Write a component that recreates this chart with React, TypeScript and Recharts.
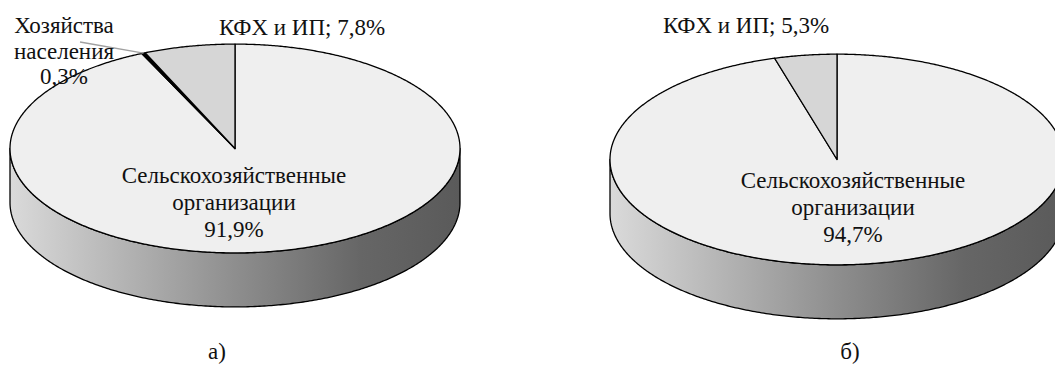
import React from 'react';
import { PieChart, Pie, Cell } from 'recharts';

// Доли категорий хозяйств, %
const categoriesA = ['Сельскохозяйственные организации', 'Хозяйства населения', 'КФХ и ИП'];
const sharesA = [91.9, 0.3, 7.8];
const categoriesB = ['Сельскохозяйственные организации', 'КФХ и ИП'];
const sharesB = [94.7, 5.3];
const captions = ['а)', 'б)'];

const dataA = categoriesA.map((name, i) => ({ name, value: sharesA[i] }));
const dataB = categoriesB.map((name, i) => ({ name, value: sharesB[i] }));

const fillsA = ['#efefef', '#000000', '#d6d6d6'];
const fillsB = ['#efefef', '#d6d6d6'];

// псевдо-3D: наклон диска, перспектива и толщина стенки
const TILT = 0.464;
const PERSP = -0.18;
const DEPTH = 54;
const FONT = 'Liberation Serif, Times New Roman, serif';
const FONT_SIZE = 23;

type Spot = { dx: number; dy: number; lh: number; inline?: boolean; leader?: [number, number] };

const spotsA: Spot[] = [
  { dx: -1, dy: 34.5, lh: 27 },
  { dx: -171, dy: -115.5, lh: 25.5, leader: [-155, -106.5] },
  { dx: 67, dy: -113.5, lh: 0, inline: true },
];
const spotsB: Spot[] = [
  { dx: 16, dy: 28.5, lh: 27 },
  { dx: -91, dy: -126.5, lh: 0, inline: true },
];

const project = (cx: number, cy: number, r: number, deg: number): [number, number] => {
  const t = (deg * Math.PI) / 180;
  const x = Math.cos(t);
  const y = -Math.sin(t);
  const d = 1 + PERSP * y;
  return [cx + (r * x * Math.sqrt(1 - PERSP * PERSP)) / d, cy + (r * TILT * (y + PERSP)) / d];
};

const arc = (cx: number, cy: number, r: number, a0: number, a1: number, shift = 0) => {
  const n = Math.max(2, Math.ceil(Math.abs(a1 - a0) * 2));
  const pts: string[] = [];
  for (let i = 0; i <= n; i++) {
    const [x, y] = project(cx, cy, r, a0 + ((a1 - a0) * i) / n);
    pts.push(`${x.toFixed(2)},${(y + shift).toFixed(2)}`);
  }
  return pts;
};

// видимая (передняя) часть боковой стенки
const FRONT_LO = 180 + (Math.asin(-PERSP) * 180) / Math.PI;
const FRONT_HI = 360 - (Math.asin(-PERSP) * 180) / Math.PI;

const makeSide = (gradId: string) => (props: any) => {
  const { cx, cy, outerRadius: r, startAngle, endAngle } = props;
  const lo = Math.min(startAngle, endAngle);
  const hi = Math.max(startAngle, endAngle);
  const paths: string[] = [];
  for (let k = -2; k <= 2; k++) {
    const a = Math.max(lo, FRONT_LO + 360 * k);
    const b = Math.min(hi, FRONT_HI + 360 * k);
    if (b > a) {
      const top = arc(cx, cy, r, a, b);
      const bottom = arc(cx, cy, r, b, a, DEPTH);
      paths.push(`M${top.join('L')}L${bottom.join('L')}Z`);
    }
  }
  return (
    <g>
      <defs>
        <linearGradient id={gradId} gradientUnits="userSpaceOnUse" x1={cx - r} x2={cx + r} y1={0} y2={0}>
          <stop offset="0" stopColor="#dadada" />
          <stop offset="0.25" stopColor="#b4b4b4" />
          <stop offset="0.5" stopColor="#8e8e8e" />
          <stop offset="0.78" stopColor="#666666" />
          <stop offset="1" stopColor="#5a5a5a" />
        </linearGradient>
      </defs>
      {paths.map((d, i) => (
        <path key={i} d={d} fill={`url(#${gradId})`} stroke="#000" strokeWidth={1.3} strokeLinejoin="round" />
      ))}
    </g>
  );
};

const topFace = (props: any) => {
  const { cx, cy, outerRadius: r, startAngle, endAngle, fill } = props;
  const apex = project(cx, cy, 0, 0);
  const pts = arc(cx, cy, r, startAngle, endAngle);
  return (
    <path
      d={`M${apex[0]},${apex[1]}L${pts.join('L')}Z`}
      fill={fill}
      stroke="#000"
      strokeWidth={1.3}
      strokeLinejoin="round"
    />
  );
};

const fmt = (v: number) => v.toFixed(1).replace('.', ',');

const makeLabel = (cx: number, cy: number, r: number, spots: Spot[]) => (props: any) => {
  const { index, name, value, midAngle } = props;
  const s = spots[index];
  const x = cx + s.dx;
  const y = cy + s.dy;
  const lines = s.inline ? [`${name}; ${fmt(value)}%`] : [...String(name).split(' '), `${fmt(value)}%`];
  const edge = project(cx, cy, r, midAngle);
  return (
    <g key={`lbl-${index}`}>
      {s.leader && (
        <line x1={edge[0]} y1={edge[1]} x2={cx + s.leader[0]} y2={cy + s.leader[1]} stroke="#a0a0a0" strokeWidth={1.3} />
      )}
      <text
        x={x}
        y={y}
        textAnchor="middle"
        style={{ fontFamily: FONT, fontSize: FONT_SIZE }}
        fill="#111"
      >
        {lines.map((t, i) => (
          <tspan key={i} x={x} dy={i === 0 ? 0 : s.lh}>
            {t}
          </tspan>
        ))}
      </text>
    </g>
  );
};

type DiskProps = {
  data: { name: string; value: number }[];
  fills: string[];
  spots: Spot[];
  width: number;
  cx: number;
  cy: number;
  r: number;
  id: string;
};

const Disk = ({ data, fills, spots, width, cx, cy, r, id }: DiskProps) => {
  const side = makeSide(`side-${id}`);
  return (
    <PieChart width={width} height={382} margin={{ top: 0, right: 0, bottom: 0, left: 0 }}>
      <Pie
        data={data}
        dataKey="value"
        nameKey="name"
        cx={cx}
        cy={cy}
        outerRadius={r}
        startAngle={90}
        endAngle={-270}
        isAnimationActive={false}
        shape={side}
        activeShape={side}
        inactiveShape={side}
      >
        {data.map((_, i) => (
          <Cell key={i} fill={fills[i]} />
        ))}
      </Pie>
      <Pie
        data={data}
        dataKey="value"
        nameKey="name"
        cx={cx}
        cy={cy}
        outerRadius={r}
        startAngle={90}
        endAngle={-270}
        isAnimationActive={false}
        shape={topFace}
        activeShape={topFace}
        inactiveShape={topFace}
        label={makeLabel(cx, cy, r, spots)}
        labelLine={false}
      >
        {data.map((_, i) => (
          <Cell key={i} fill={fills[i]} />
        ))}
      </Pie>
    </PieChart>
  );
};

const captionStyle: React.CSSProperties = {
  position: 'absolute',
  top: 339,
  width: 60,
  textAlign: 'center',
  fontFamily: FONT,
  fontSize: FONT_SIZE,
  color: '#111',
};

export default function App() {
  return (
    <div style={{ position: 'absolute', left: 0, top: 0, width: 1055, height: 382, background: '#fff', overflow: 'hidden' }}>
      <div style={{ position: 'absolute', left: 0, top: 0 }}>
        <Disk data={dataA} fills={fillsA} spots={spotsA} width={527} cx={235} cy={148.5} r={225} id="a" />
      </div>
      <div style={{ position: 'absolute', left: 527, top: 0 }}>
        <Disk data={dataB} fills={fillsB} spots={spotsB} width={528} cx={310} cy={159.5} r={227} id="b" />
      </div>
      <div style={{ ...captionStyle, left: 187 }}>{captions[0]}</div>
      <div style={{ ...captionStyle, left: 820 }}>{captions[1]}</div>
    </div>
  );
}
